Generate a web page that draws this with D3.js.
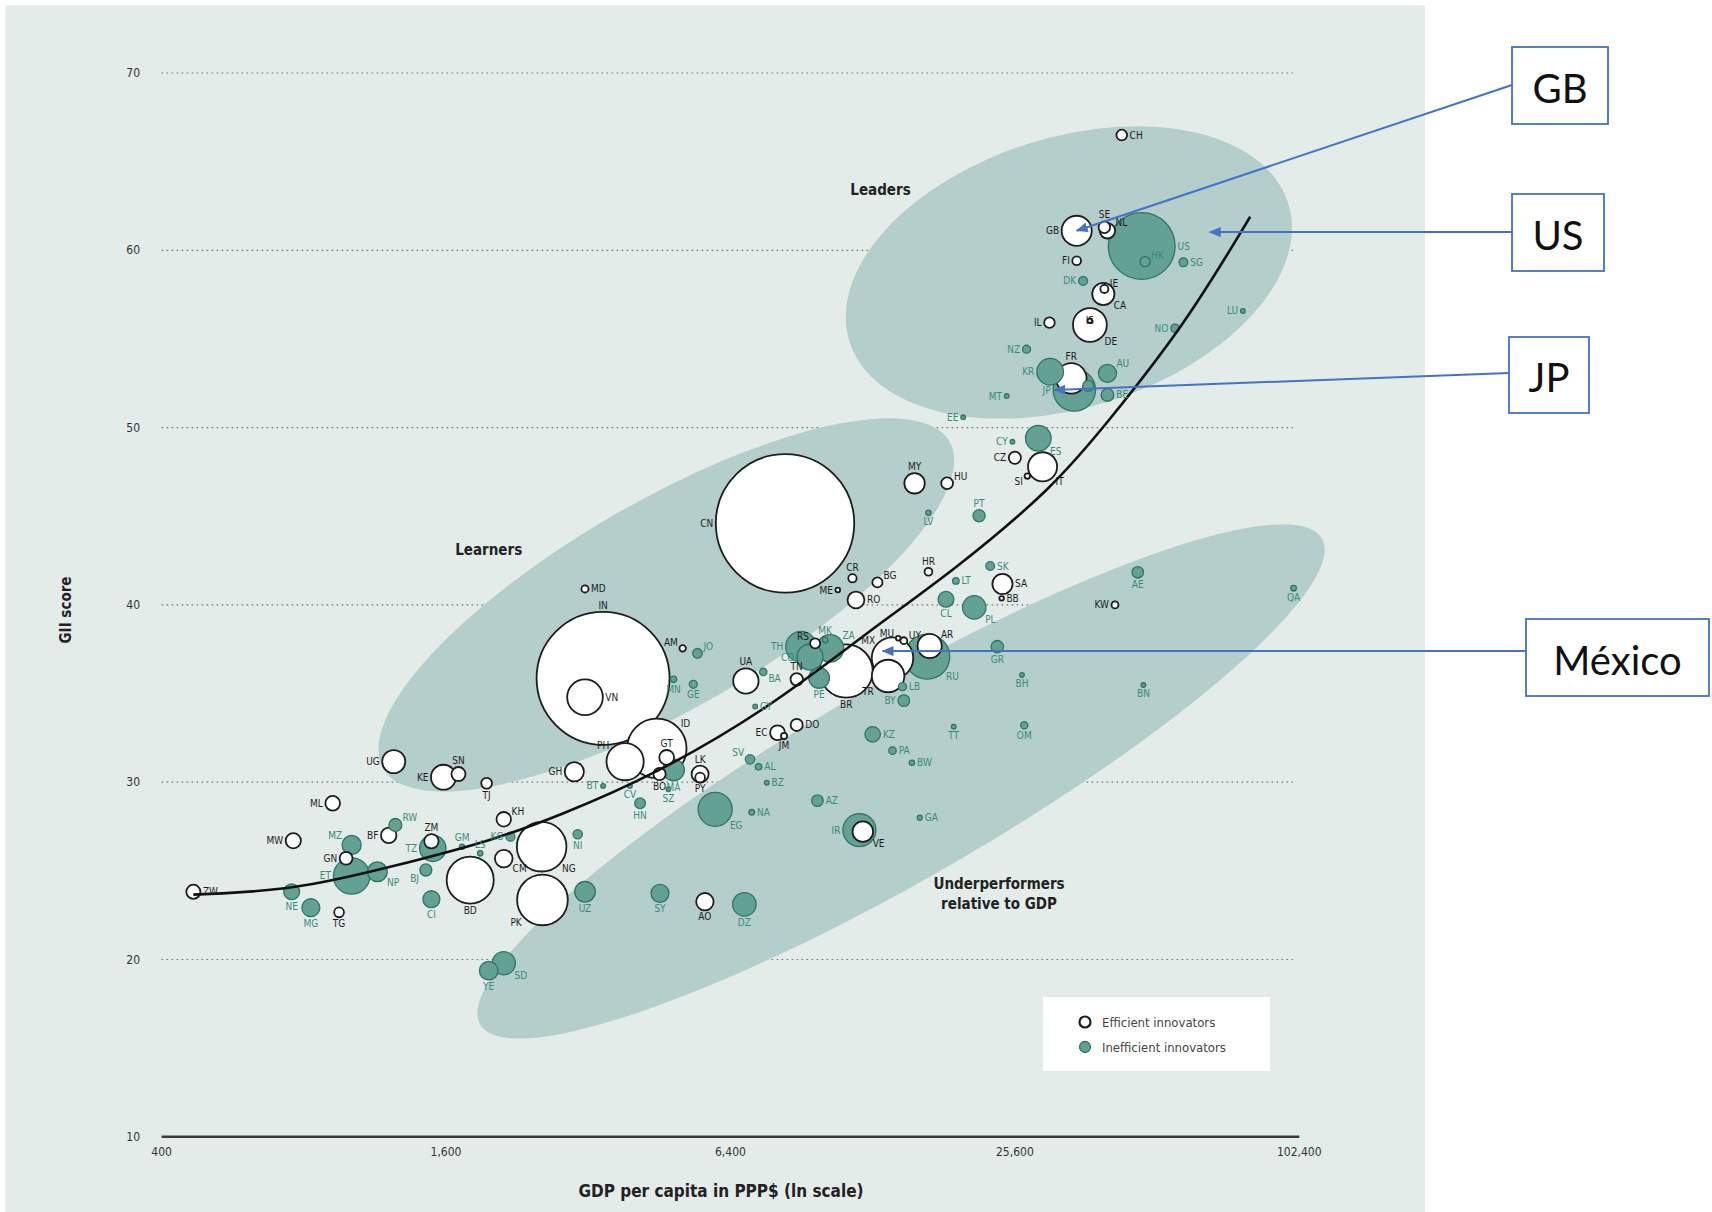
<!DOCTYPE html>
<html><head><meta charset="utf-8">
<script src="https://cdn.jsdelivr.net/npm/d3@7"></script>
<style>body{margin:0;background:#fff}svg{display:block}.cond{font-stretch:condensed}</style>
</head><body>
<svg id="c" width="1712" height="1212"></svg>
<script>
// ---------- DATA ----------
const codes = ["CH","GB","SE","NL","US","HK","SG","FI","DK","IE","CA","IL","IS","DE","NO","LU","NZ","KR","FR","JP","AU","BE","AT","MT","EE","CY","ES","CZ","IT","SI","MY","HU","PT","LV","HR","SK","LT","SA","BB","CL","PL","CR","BG","ME","RO","AE","QA","KW","MU","UY","AR","RU","MX","TR","LB","BY","GR","BH","BN","TT","OM","KZ","PA","BW","AZ","GA","IR","VE","NA","EG","SV","AL","BZ","CN","MD","IN","VN","AM","JO","MN","GE","UA","BA","TN","TH","CO","RS","MK","ZA","PE","BR","GY","EC","JM","DO","UG","KE","SN","TJ","GH","PH","ID","GT","MA","BO","SZ","HN","LK","PY","BT","CV","KH","KG","NG","CM","NI","ZM","TZ","RW","BF","GM","LS","BJ","BD","CI","PK","UZ","SY","AO","DZ","YE","SD","ZW","NE","MG","TG","ML","MW","MZ","GN","ET","NP"];
const gdpPPP = [43100,34600,39600,40200,47500,48300,58200,34600,35700,39600,39400,30300,36900,36900,55900,77800,27100,30400,33700,34200,40200,40200,36600,24600,19900,25300,28700,25600,29300,27200,15700,18400,21500,16800,16800,22700,19200,24100,24000,18300,21000,11600,13100,10800,11800,46600,99600,41700,14500,14900,16900,16700,14100,13800,14800,14900,23500,26500,47900,19000,26800,12800,14100,15500,9780,16100,12000,12200,7100,5940,7040,7340,7640,8350,3150,3440,3150,5070,5450,4850,5340,6900,7510,8840,9030,9430,9670,10150,10400,9860,11250,7220,8050,8310,8840,1240,1580,1700,1950,2990,3830,4470,4690,4850,4530,4730,4120,5520,5520,3440,3920,2120,2190,2550,2120,3040,1490,1500,1250,1210,1730,1890,1450,1800,1490,2560,3150,4540,5650,6850,1970,2120,467,754,828,950,921,760,1010,983,1010,1145];
const giiScore = [66.5,61.1,61.3,61.1,60.24,59.36,59.32,59.41,58.27,57.82,57.54,55.92,56.03,55.79,55.6,56.58,54.42,53.15,52.78,52.12,53.06,51.84,52.35,51.78,50.58,49.2,49.4,48.3,47.79,47.27,46.86,46.86,45.03,45.2,41.87,42.19,41.35,41.18,40.37,40.32,39.86,41.5,41.27,40.84,40.28,41.84,40.94,40.0,38.12,37.98,37.68,37.08,37.0,35.99,35.39,34.6,37.64,36.05,35.48,33.13,33.21,32.7,31.78,31.1,28.96,28.0,27.3,27.21,28.3,28.47,31.29,30.87,29.97,44.6,40.9,35.86,34.79,37.55,37.27,35.8,35.52,35.71,36.22,35.8,37.64,37.06,37.83,38.02,37.55,35.88,36.27,34.27,32.79,32.61,33.23,31.16,30.28,30.46,29.94,30.59,31.16,31.91,31.4,30.69,30.46,29.6,28.81,30.46,30.26,29.79,29.79,27.91,26.93,26.36,25.69,27.06,26.67,26.27,27.59,27.0,26.36,25.99,25.05,24.48,23.4,23.36,23.82,23.73,23.26,23.11,19.37,19.79,23.82,23.82,22.92,22.66,28.81,26.7,26.46,25.71,24.71,24.95];
const population = [8.1,64,9.6,16.8,316,7.2,5.4,5.4,5.6,4.6,35,8,0.32,81,5.1,0.54,4.5,50,66,127,23,11.2,8.5,0.42,1.3,1.1,46.6,10.5,60,2.1,29.7,9.9,10.5,2.0,4.3,5.4,3.0,28.8,0.28,17.6,38.5,4.9,7.3,0.62,20,9.3,2.2,3.4,1.3,3.4,41.4,143,122,75,4.5,9.5,11,1.3,0.42,1.3,3.6,17,3.9,2.0,9.4,1.7,77,30,2.3,82,6.3,2.9,0.33,1357,3.6,1252,90,3.0,6.5,2.8,4.5,45.5,3.8,10.9,67,48,7.2,2.1,53,30,200,0.8,15.7,2.7,10.4,37.6,44,14,8.2,26,98,250,15.5,33,10.7,1.25,8.1,20.5,6.8,0.75,0.5,15,5.7,174,22,6.1,14.5,49,11.8,16.9,1.85,2.1,10.3,157,20.3,182,30,22.8,21.5,39,24.4,38,14.1,17.8,22.9,6.8,15.3,16.4,25.8,11.7,94,27.8];
// 1 = efficient innovator, 0 = inefficient innovator
const efficient = [1,1,1,1,0,0,0,1,0,1,1,1,1,1,0,0,0,0,1,0,0,0,0,0,0,0,0,1,1,1,1,1,0,0,1,0,0,1,1,0,0,1,1,1,1,0,0,1,1,1,1,0,1,1,0,0,0,0,0,0,0,0,0,0,0,0,0,1,0,0,0,0,0,1,1,1,1,1,0,0,0,1,0,1,0,0,1,0,0,0,1,0,1,1,1,1,1,1,1,1,1,1,1,0,1,0,0,1,1,0,0,1,0,1,1,0,1,0,0,1,0,0,0,1,0,1,0,0,1,0,0,0,1,0,0,1,1,1,0,1,0,0];
// fitted trend line points (GDP, GII score)
const trendGDP = [467,762,1236,2017,2790,4340,7795,12650,18950,30930,40150,58250,80600];
const trendGII = [23.66,23.9,25.25,26.73,28.14,30.3,34.23,38.59,41.9,46.64,50.27,55.68,61.89];
const xTicks = [400,1600,6400,25600,102400];
const yTicks = [10,20,30,40,50,60,70];
const groupNames = ["Leaders","Learners","Underperformers"];
const groupCenterGDP = [33300,4680,14700];
const groupCenterGII = [58.75,40.0,30.04];
const legendLabels = ["Efficient innovators","Inefficient innovators"];
const callouts = ["GB","US","JP","MX"];
const calloutText = ["GB","US","JP","México"];

// ---------- LAYOUT / STYLE ----------
const labelDir = {CH:"r",GB:"l",SE:"t",NL:"tr",US:"r",HK:"tr",SG:"r",FI:"l",DK:"l",IE:"tr",CA:"br",IL:"l",IS:"c",DE:"br",NO:"l",LU:"l",NZ:"l",KR:"l",FR:"t",JP:"l",AU:"tr",BE:"r",AT:"",MT:"l",EE:"l",CY:"l",ES:"br",CZ:"l",IT:"br",SI:"bl",MY:"t",HU:"tr",PT:"t",LV:"b",HR:"t",SK:"r",LT:"r",SA:"r",BB:"r",CL:"b",PL:"br",CR:"t",BG:"tr",ME:"l",RO:"r",AE:"b",QA:"b",KW:"l",MU:"tl",UY:"tr",AR:"tr",RU:"br",MX:"tl",TR:"bl",LB:"r",BY:"l",GR:"b",BH:"b",BN:"b",TT:"b",OM:"b",KZ:"r",PA:"r",BW:"r",AZ:"r",GA:"r",IR:"l",VE:"br",NA:"r",EG:"br",SV:"tl",AL:"r",BZ:"r",CN:"l",MD:"r",IN:"t",VN:"r",AM:"tl",JO:"tr",MN:"b",GE:"b",UA:"t",BA:"br",TN:"t",TH:"l",CO:"l",RS:"tl",MK:"t",ZA:"tr",PE:"b",BR:"b",GY:"r",EC:"l",JM:"b",DO:"r",UG:"l",KE:"l",SN:"t",TJ:"b",GH:"l",PH:"tl",ID:"tr",GT:"t",MA:"b",BO:"b",SZ:"b",HN:"b",LK:"t",PY:"b",BT:"l",CV:"b",KH:"tr",KG:"l",NG:"br",CM:"br",NI:"b",ZM:"t",TZ:"l",RW:"tr",BF:"l",GM:"t",LS:"t",BJ:"bl",BD:"b",CI:"b",PK:"bl",UZ:"b",SY:"b",AO:"b",DZ:"b",YE:"b",SD:"br",ZW:"r",NE:"b",MG:"b",TG:"b",ML:"l",MW:"l",MZ:"tl",GN:"l",ET:"l",NP:"br"};
const C = {bg:"#e4ecea", blob:"#b3cecb", teal:"#62a193", tealDark:"#2f7465", tealText:"#3a8a79", ink:"#1d1d1d", blue:"#4472c4"};
const FONT = "'Liberation Sans Narrow','DejaVu Sans',sans-serif";

const svg = d3.select("#c");
const x = d3.scaleLog().base(2).domain([400,102400]).range([161.6,1299.3]);
const y = d3.scaleLinear().domain([10,70]).range([1136.8,73]);
const rad = d3.scaleSqrt().domain([0,1400]).range([0,70.3]);
const R = p => Math.max(2.3, rad(p));

const data = codes.map((c,i)=>({code:c, gdp:gdpPPP[i], gii:giiScore[i], pop:population[i], eff:efficient[i]}));
const byCode = Object.fromEntries(data.map(d=>[d.code,d]));

// panel
svg.append("rect").attr("x",5.5).attr("y",5.5).attr("width",1419.5).attr("height",1206.5).attr("fill",C.bg);

// gridlines
svg.append("g").selectAll("line").data(yTicks.filter(t=>t>10)).join("line")
  .attr("x1",x(400)).attr("x2",1293).attr("y1",d=>y(d)).attr("y2",d=>y(d))
  .attr("stroke","#6f7775").attr("stroke-width",1.2).attr("stroke-dasharray","1.6,3.4");

// group ellipses
const ell = [{rx:230,ry:135,rot:17.5},{rx:327,ry:104,rot:30},{rx:486,ry:97,rot:30}];
svg.append("g").selectAll("ellipse").data(groupNames).join("ellipse")
  .attr("transform",(d,i)=>`translate(${x(groupCenterGDP[i])},${y(groupCenterGII[i])}) rotate(${-ell[i].rot})`)
  .attr("rx",(d,i)=>ell[i].rx).attr("ry",(d,i)=>ell[i].ry).attr("fill",C.blob);

// bubbles
const sorted = data.slice().sort((a,b)=>b.pop-a.pop);
svg.append("g").selectAll("circle").data(sorted).join("circle")
  .attr("cx",d=>x(d.gdp)).attr("cy",d=>y(d.gii)).attr("r",d=>R(d.pop))
  .attr("fill",d=>d.eff?"#ffffff":C.teal)
  .attr("stroke",d=>d.eff?C.ink:C.tealDark)
  .attr("stroke-width",d=>d.eff?1.8:1.3);

// trend line
const pts = trendGDP.map((g,i)=>[x(g),y(trendGII[i])]);
svg.append("path").attr("d",d3.line().curve(d3.curveBasis)(pts))
  .attr("fill","none").attr("stroke","#111").attr("stroke-width",2.6);

// country labels
function lab(d){
  const cx=x(d.gdp), cy=y(d.gii), r=R(d.pop), g=2.5, k=0.72;
  switch(labelDir[d.code]){
    case "r": return [cx+r+g,cy,"start"];
    case "l": return [cx-r-g,cy,"end"];
    case "t": return [cx,cy-r-g-4,"middle"];
    case "b": return [cx,cy+r+g+4,"middle"];
    case "tr": return [cx+r*k+g,cy-r*k-3,"start"];
    case "tl": return [cx-r*k-g,cy-r*k-3,"end"];
    case "br": return [cx+r*k+g,cy+r*k+4,"start"];
    case "bl": return [cx-r*k-g,cy+r*k+4,"end"];
    default: return [cx,cy,"middle"];
  }
}
svg.append("g").attr("class","cond").selectAll("text").data(data.filter(d=>labelDir[d.code])).join("text")
  .each(function(d){const p=lab(d); d3.select(this).attr("x",p[0]).attr("y",p[1]).attr("text-anchor",p[2]);})
  .attr("dominant-baseline","central").attr("font-family",FONT).attr("font-size",10)
  .attr("fill",d=>d.eff?C.ink:C.tealText).text(d=>d.code);

// group titles
const gt = svg.append("g").attr("class","cond").attr("font-family",FONT).attr("font-weight","bold").attr("font-size",15).attr("fill","#222").attr("text-anchor","middle");
gt.append("text").attr("x",x(13300)).attr("y",y(63.4)).attr("dominant-baseline","central").text("Leaders");
gt.append("text").attr("x",x(1970)).attr("y",y(43.1)).attr("dominant-baseline","central").text("Learners");
gt.append("text").attr("x",x(23700)).attr("y",y(24.26)).attr("dominant-baseline","central").text("Underperformers");
gt.append("text").attr("x",x(23700)).attr("y",y(23.13)).attr("dominant-baseline","central").text("relative to GDP");

// axes
svg.append("line").attr("x1",x(400)).attr("x2",x(102400)).attr("y1",y(10)).attr("y2",y(10)).attr("stroke","#3a3a3a").attr("stroke-width",2.6);
const ax = svg.append("g").attr("class","cond");
ax.append("g").selectAll("text").data(yTicks).join("text")
  .attr("x",140).attr("y",d=>y(d)).attr("text-anchor","end").attr("dominant-baseline","central")
  .attr("font-family",FONT).attr("font-size",12).attr("fill","#333").text(d=>d);
ax.append("g").selectAll("text").data(xTicks).join("text")
  .attr("x",d=>x(d)).attr("y",y(10)+15).attr("text-anchor","middle").attr("dominant-baseline","central")
  .attr("font-family",FONT).attr("font-size",12).attr("fill","#333").text(d=>d3.format(",")(d));
ax.append("text").attr("transform","translate(66,610) rotate(-90)").attr("text-anchor","middle").attr("dominant-baseline","central")
  .attr("font-family",FONT).attr("font-weight","bold").attr("font-size",15).attr("fill","#222").text("GII score");
ax.append("text").attr("x",721).attr("y",1191).attr("text-anchor","middle").attr("dominant-baseline","central")
  .attr("font-family",FONT).attr("font-weight","bold").attr("font-size",17).attr("fill","#222").text("GDP per capita in PPP$ (ln scale)");

// legend
const lg = svg.append("g").attr("class","cond");
lg.append("rect").attr("x",1043).attr("y",997).attr("width",227).attr("height",74).attr("fill","#fff");
legendLabels.forEach((t,i)=>{
  lg.append("circle").attr("cx",1085).attr("cy",1022+i*25).attr("r",5.5)
    .attr("fill",i?C.teal:"#fff").attr("stroke",i?C.tealDark:C.ink).attr("stroke-width",i?1.3:2.2);
  lg.append("text").attr("x",1102).attr("y",1022+i*25).attr("dominant-baseline","central")
    .attr("font-family",FONT).attr("font-size",13).attr("fill","#444").text(t);
});

// callouts
const defs = svg.append("defs");
defs.append("marker").attr("id","ah").attr("viewBox","0 0 12 10").attr("refX",11).attr("refY",5)
  .attr("markerWidth",12).attr("markerHeight",10).attr("markerUnits","userSpaceOnUse").attr("orient","auto")
  .append("path").attr("d","M0,0L12,5L0,10z").attr("fill",C.blue);
const boxes = [{x:1512,y:47,w:96,h:77,ay:85,dx:0,dy:0},{x:1512,y:194,w:92,h:77,ay:232,dx:68,dy:-14},
               {x:1509,y:337,w:80,h:76,ay:373,dx:-20,dy:0},{x:1526,y:619,w:183,h:77,ay:651,dx:-10,dy:-7}];
callouts.forEach((c,i)=>{
  const b=boxes[i], d=byCode[c];
  svg.append("line").attr("x1",b.x).attr("y1",b.ay).attr("x2",x(d.gdp)+b.dx).attr("y2",y(d.gii)+b.dy)
    .attr("stroke",C.blue).attr("stroke-width",2).attr("marker-end","url(#ah)");
  svg.append("rect").attr("x",b.x).attr("y",b.y).attr("width",b.w).attr("height",b.h)
    .attr("fill","#fff").attr("stroke",C.blue).attr("stroke-width",1.8);
  svg.append("text").attr("x",b.x+b.w/2).attr("y",b.y+b.h/2+2).attr("text-anchor","middle").attr("dominant-baseline","central")
    .attr("font-family","Lato,'Open Sans',sans-serif").attr("font-size",40).attr("fill","#111").text(calloutText[i]);
});
</script>
</body></html>
